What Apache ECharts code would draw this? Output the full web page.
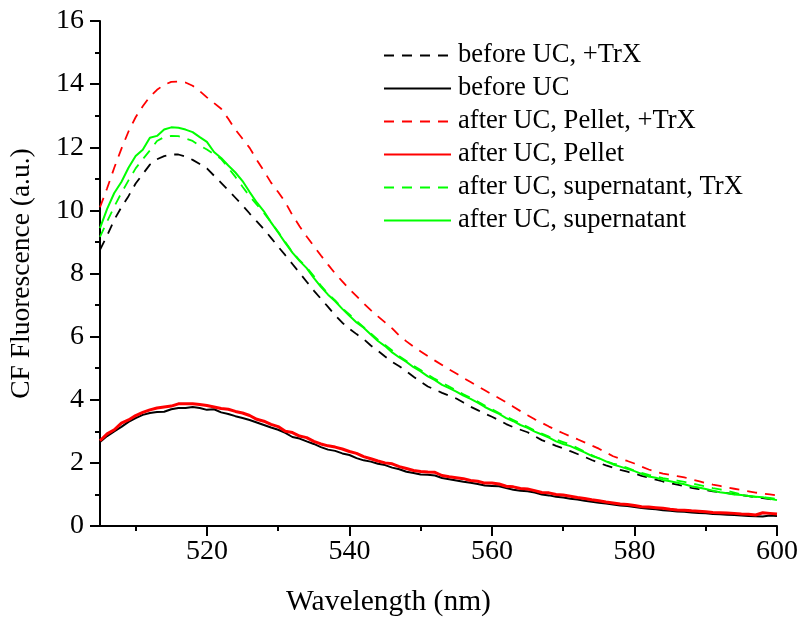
<!DOCTYPE html>
<html>
<head>
<meta charset="utf-8">
<script src="https://cdn.jsdelivr.net/npm/echarts@6/dist/echarts.min.js"></script>
<style>html,body{margin:0;padding:0;background:#fff;}#chart{width:801px;height:628px;}</style>
</head>
<body>
<div id="chart"></div>
<script>
const wavelength = [505,506,507,508,509,510,511,512,513,514,515,516,517,518,519,520,521,522,523,524,525,526,527,528,529,530,531,532,533,534,535,536,537,538,539,540,541,542,543,544,545,546,547,548,549,550,551,552,553,554,555,556,557,558,559,560,561,562,563,564,565,566,567,568,569,570,571,572,573,574,575,576,577,578,579,580,581,582,583,584,585,586,587,588,589,590,591,592,593,594,595,596,597,598,599,600];

const beforeTrX = [8.75,9.2,9.7,10.1,10.45,10.85,11.15,11.45,11.62,11.72,11.77,11.77,11.7,11.6,11.47,11.33,11.1,10.87,10.64,10.4,10.16,9.9,9.65,9.4,9.13,8.85,8.58,8.3,8.02,7.74,7.46,7.2,6.94,6.68,6.44,6.25,6.08,5.92,5.72,5.55,5.37,5.2,5.06,4.9,4.73,4.57,4.42,4.32,4.22,4.13,4.04,3.91,3.78,3.67,3.56,3.46,3.35,3.23,3.13,3.05,2.97,2.85,2.72,2.63,2.54,2.46,2.37,2.28,2.19,2.09,2.0,1.92,1.85,1.78,1.72,1.66,1.59,1.53,1.47,1.41,1.36,1.31,1.26,1.21,1.17,1.14,1.1,1.07,1.04,1.01,0.98,0.95,0.91,0.88,0.85,0.82];

const before = [2.66,2.85,3.0,3.14,3.3,3.42,3.52,3.58,3.61,3.62,3.7,3.74,3.74,3.77,3.74,3.68,3.7,3.6,3.55,3.48,3.42,3.36,3.28,3.2,3.12,3.05,2.95,2.82,2.77,2.68,2.6,2.5,2.42,2.38,2.3,2.25,2.15,2.08,2.04,1.97,1.93,1.85,1.8,1.72,1.68,1.63,1.62,1.6,1.52,1.48,1.44,1.4,1.37,1.33,1.28,1.27,1.26,1.2,1.15,1.12,1.1,1.06,1.0,0.97,0.93,0.9,0.86,0.84,0.8,0.77,0.74,0.71,0.68,0.65,0.63,0.6,0.57,0.55,0.53,0.5,0.48,0.46,0.45,0.43,0.41,0.4,0.38,0.37,0.36,0.35,0.33,0.32,0.31,0.3,0.33,0.32];

const pelletTrX = [10.1,10.7,11.35,11.95,12.5,12.95,13.3,13.6,13.82,13.98,14.07,14.08,14.05,13.95,13.78,13.58,13.4,13.22,12.9,12.56,12.27,11.98,11.6,11.25,10.88,10.58,10.26,9.85,9.5,9.17,8.87,8.57,8.28,8.0,7.75,7.5,7.28,7.05,6.84,6.64,6.45,6.26,6.03,5.85,5.68,5.53,5.38,5.24,5.1,4.96,4.83,4.69,4.56,4.43,4.3,4.17,4.05,3.92,3.78,3.64,3.51,3.38,3.27,3.15,3.04,2.94,2.84,2.75,2.65,2.55,2.45,2.33,2.21,2.13,2.06,1.98,1.88,1.79,1.72,1.66,1.62,1.58,1.54,1.48,1.42,1.36,1.31,1.27,1.22,1.18,1.14,1.1,1.06,1.03,1.0,0.97];

const pellet = [2.7,2.92,3.05,3.26,3.36,3.5,3.6,3.68,3.74,3.77,3.8,3.87,3.87,3.87,3.85,3.82,3.77,3.72,3.7,3.63,3.58,3.5,3.38,3.32,3.22,3.15,3.0,2.96,2.85,2.8,2.68,2.6,2.54,2.5,2.44,2.36,2.3,2.2,2.13,2.06,2.0,1.97,1.88,1.82,1.76,1.73,1.71,1.7,1.6,1.56,1.53,1.5,1.44,1.42,1.36,1.36,1.33,1.26,1.24,1.19,1.17,1.12,1.06,1.05,1.0,0.98,0.94,0.9,0.87,0.83,0.8,0.76,0.73,0.7,0.68,0.65,0.61,0.6,0.58,0.56,0.53,0.51,0.5,0.48,0.47,0.45,0.43,0.42,0.41,0.4,0.38,0.37,0.35,0.42,0.4,0.38];

const superTrX = [9.16,9.65,10.12,10.55,10.95,11.33,11.62,11.9,12.2,12.32,12.36,12.35,12.28,12.2,12.05,11.93,11.78,11.63,11.35,11.06,10.75,10.45,10.18,9.92,9.62,9.32,9.0,8.68,8.42,8.2,7.92,7.62,7.36,7.15,6.9,6.7,6.5,6.3,6.1,5.9,5.74,5.56,5.38,5.23,5.08,4.94,4.8,4.66,4.54,4.42,4.3,4.17,4.06,3.94,3.82,3.7,3.58,3.47,3.36,3.25,3.14,3.03,2.93,2.83,2.74,2.66,2.58,2.47,2.36,2.25,2.14,2.05,1.98,1.92,1.84,1.76,1.68,1.62,1.57,1.52,1.48,1.44,1.4,1.35,1.3,1.25,1.2,1.16,1.11,1.06,1.0,0.95,0.92,0.91,0.89,0.86];

const supernatant = [9.44,10.05,10.55,10.9,11.35,11.72,11.92,12.3,12.36,12.56,12.63,12.62,12.56,12.48,12.32,12.17,11.85,11.66,11.42,11.2,10.93,10.58,10.25,9.97,9.62,9.3,8.97,8.66,8.4,8.17,7.86,7.58,7.33,7.12,6.88,6.66,6.45,6.28,6.07,5.86,5.7,5.5,5.34,5.2,5.03,4.9,4.74,4.62,4.47,4.37,4.26,4.13,4.03,3.91,3.77,3.66,3.55,3.42,3.32,3.2,3.11,2.99,2.9,2.8,2.68,2.6,2.53,2.43,2.33,2.22,2.15,2.05,1.95,1.88,1.81,1.74,1.65,1.57,1.53,1.46,1.42,1.37,1.32,1.26,1.22,1.17,1.12,1.07,1.04,1.0,0.98,0.95,0.93,0.91,0.86,0.82];

const xMajorTicks = [520,540,560,580,600];
const xMinorTicks = [510,530,550,570,590];

const seriesNames = ['before UC, +TrX','before UC','after UC, Pellet, +TrX','after UC, Pellet','after UC, supernatant, TrX','after UC, supernatant'];
const seriesValues = [beforeTrX, before, pelletTrX, pellet, superTrX, supernatant];
const seriesColors = ['#000000','#000000','#ff0000','#ff0000','#00ff00','#00ff00'];
const seriesDashed = [true,false,true,false,true,false];
const seriesWidths = [1.8,2,1.8,3,1.8,2];

const FONT = "'Liberation Serif','Times New Roman',serif";

const chart = echarts.init(document.getElementById('chart'), null, {renderer:'canvas'});

const series = seriesNames.map((name,i)=>({
  name: name,
  type: 'line',
  xAxisIndex: 0,
  yAxisIndex: 0,
  symbol: 'none',
  showSymbol: false,
  animation: false,
  data: wavelength.map((w,j)=>[w, seriesValues[i][j]]),
  lineStyle: {color: seriesColors[i], width: seriesWidths[i], type: seriesDashed[i] ? [10,8] : 'solid'},
  itemStyle: {color: seriesColors[i]}
}));

chart.setOption({
  animation: false,
  backgroundColor: '#ffffff',
  grid: {left: 99, right: 23, top: 21, bottom: 102, containLabel: false},
  legend: {
    orient: 'vertical',
    left: 383,
    top: 39,
    padding: 0,
    itemWidth: 67,
    itemHeight: 12,
    itemGap: 0,
    data: seriesNames,
    itemStyle: {color: 'rgba(0,0,0,0)', borderWidth: 0, opacity: 0},
    textStyle: {fontFamily: FONT, fontSize: 26.6, color: '#000', lineHeight: 33, padding: [0,0,0,2]},
    selectedMode: false
  },
  xAxis: [{
    type: 'value',
    min: 505,
    max: 600,
    position: 'bottom',
    name: 'Wavelength (nm)',
    nameLocation: 'middle',
    nameGap: 61,
    nameTextStyle: {fontFamily: FONT, fontSize: 29.5, color: '#000', padding: [0,100,0,0]},
    axisLine: {show: true, lineStyle: {color: '#000', width: 2}},
    axisTick: {show: true, inside: false, length: 10, lineStyle: {color: '#000', width: 2}, customValues: xMajorTicks},
    axisLabel: {fontFamily: FONT, fontSize: 28, color: '#000', margin: 12, customValues: xMajorTicks},
    splitLine: {show: false}
  },{
    type: 'value',
    min: 505,
    max: 600,
    position: 'bottom',
    axisLine: {show: false},
    axisTick: {show: true, inside: false, length: 5, lineStyle: {color: '#000', width: 2}, customValues: xMinorTicks},
    axisLabel: {show: false},
    splitLine: {show: false}
  }],
  yAxis: {
    type: 'value',
    min: 0,
    max: 16,
    interval: 2,
    name: 'CF Fluorescence (a.u.)',
    nameLocation: 'middle',
    nameGap: 64,
    nameTextStyle: {fontFamily: FONT, fontSize: 27.5, color: '#000'},
    axisLine: {show: true, lineStyle: {color: '#000', width: 2}},
    axisTick: {show: true, inside: false, length: 10, lineStyle: {color: '#000', width: 2}},
    minorTick: {show: true, splitNumber: 2, length: 5, lineStyle: {color: '#000', width: 2}},
    axisLabel: {fontFamily: FONT, fontSize: 28, color: '#000', margin: 16},
    splitLine: {show: false}
  },
  series: series
});
</script>
</body>
</html>
